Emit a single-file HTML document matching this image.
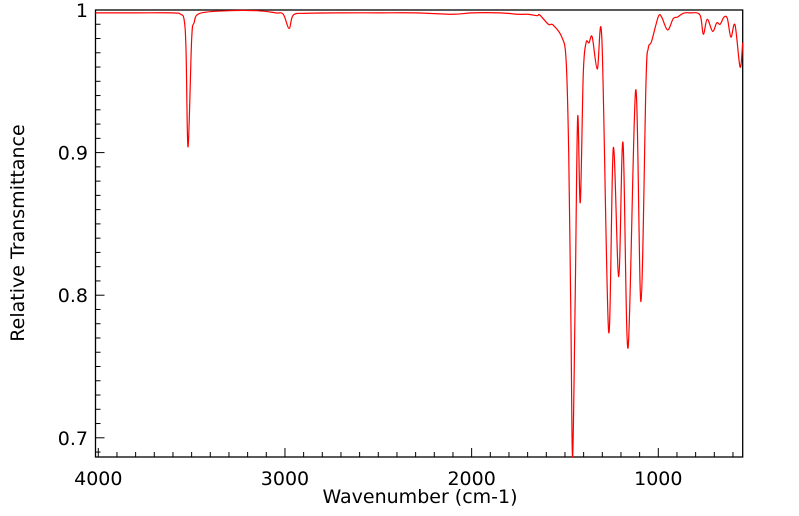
<!DOCTYPE html>
<html><head><meta charset="utf-8"><style>
html,body{margin:0;padding:0;background:#fff;}
svg{display:block;font-family:"DejaVu Sans","Liberation Sans",sans-serif;}
</style></head><body>
<svg id="chart" width="799" height="516" viewBox="0 0 799 516" xmlns="http://www.w3.org/2000/svg">
<g id="axes"></g>
<path id="line" fill="none" stroke="#ff0000" stroke-width="1.2"/>
<text x="420" y="503" font-size="19" text-anchor="middle">Wavenumber (cm-1)</text>
<text transform="translate(24,233) rotate(-90)" font-size="19" text-anchor="middle">Relative Transmittance</text>
</svg>
<script>
const wavenumbers = [4015,3800,3600,3559,3540,3530,3519,3500,3487,3455,3300,3150,3050,3009,2978,2955,2884,2700,2500,2300,2100,2000,1850,1750,1700,1650,1635,1589,1564,1517,1494,1480,1468,1459,1445,1432,1418,1402,1387,1371,1354,1327,1302,1266,1241,1212,1189,1162,1121,1093,1066,1054,1036,1000,982,950,920,898,866,830,777,759,738,709,687,669,648,630,611,589,562,548];
const transmittance = [0.998,0.998,0.998,0.997,0.993,0.972,0.904,0.979,0.991,0.9977,0.9995,0.9995,0.998,0.997,0.987,0.9965,0.9977,0.998,0.998,0.998,0.997,0.998,0.998,0.997,0.997,0.996,0.9965,0.990,0.9895,0.981,0.965,0.90,0.78,0.68,0.80,0.925,0.865,0.955,0.977,0.977,0.981,0.9586,0.9785,0.7744,0.9034,0.813,0.907,0.763,0.944,0.7955,0.949,0.973,0.978,0.9953,0.995,0.986,0.994,0.995,0.9977,0.998,0.9965,0.983,0.9935,0.985,0.991,0.990,0.995,0.994,0.981,0.9895,0.960,0.977];
const xTicks = [4000,3000,2000,1000];
const xTickLabels = ["4000","3000","2000","1000"];
const yTicks = [1,0.9,0.8,0.7];
const yTickLabels = ["1","0.9","0.8","0.7"];

const L=95.5,R=742.7,T=10,B=457;
function xs(w){return 658.3+(1000-w)*0.18667;}
function ys(v){return 10+(1-v)*1426;}
const NS="http://www.w3.org/2000/svg";
const ax=document.getElementById('axes');
function mk(t,a,p){const e=document.createElementNS(NS,t);for(const k in a)e.setAttribute(k,a[k]);(p||ax).appendChild(e);return e;}
const frame=mk('rect',{x:L,y:T,width:R-L,height:B-T,fill:'none',stroke:'#000','stroke-width':1.3});


for(let w=4000;w>=600;w-=100){const x=xs(w);const major=w%1000===0;
 const t=mk('line',{x1:x,x2:x,y1:B,y2:B-(major?9:5),stroke:'#000','stroke-width':1});
 
 }
xTicks.forEach((w,i)=>{const t=mk('text',{x:xs(w),y:485,'font-size':19,'text-anchor':'middle'});t.textContent=xTickLabels[i];
 
 });
for(let k=69;k<=100;k++){const v=k/100;const y=ys(v);if(y>B||y<T)continue;const major=k%10===0;
 const t=mk('line',{x1:L,x2:L+(major?9:5),y1:y,y2:y,stroke:'#000','stroke-width':1});
 
 }
yTicks.forEach((v,i)=>{const t=mk('text',{x:88,y:ys(v)+7,'font-size':19,'text-anchor':'end'});t.textContent=yTickLabels[i];
 
 });
const pts=wavenumbers.map((w,i)=>[xs(w),Math.min(ys(transmittance[i]),B)]);
let d='M'+pts[0][0].toFixed(2)+','+pts[0][1].toFixed(2);
for(let i=0;i<pts.length-1;i++){const p0=pts[Math.max(0,i-1)],p1=pts[i],p2=pts[i+1],p3=pts[Math.min(pts.length-1,i+2)];
 const c1=[p1[0]+(p2[0]-p0[0])/6,p1[1]+(p2[1]-p0[1])/6],c2=[p2[0]-(p3[0]-p1[0])/6,p2[1]-(p3[1]-p1[1])/6];
 d+=' C'+c1.map(n=>n.toFixed(2)).join(',')+' '+c2.map(n=>n.toFixed(2)).join(',')+' '+p2.map(n=>n.toFixed(2)).join(',');}
document.getElementById('line').setAttribute('d',d);
</script>
</body></html>
